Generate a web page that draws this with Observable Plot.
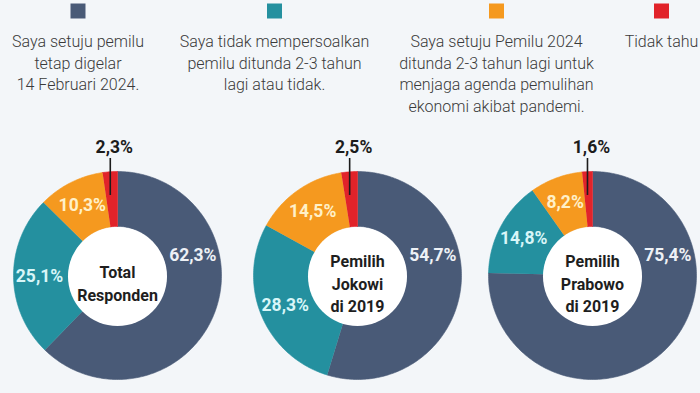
<!DOCTYPE html>
<html>
<head>
<meta charset="utf-8">
<script src="https://cdn.jsdelivr.net/npm/d3@7"></script>
<script src="https://cdn.jsdelivr.net/npm/@observablehq/plot@0.6"></script>
<style>
  html, body { margin: 0; padding: 0; background: #f3f6f9; }
  #chart svg { display: block; background: #f3f6f9; font-family: Roboto, "Noto Sans", sans-serif; }
</style>
</head>
<body>
<div id="chart"></div>
<script>
// ---- data ----
const groups = ["Total Responden", "Pemilih Jokowi di 2019", "Pemilih Prabowo di 2019"];
const centerLabels = ["Total\nResponden", "Pemilih\nJokowi\ndi 2019", "Pemilih\nPrabowo\ndi 2019"];
const categories = [
  "Saya setuju pemilu tetap digelar 14 Februari 2024.",
  "Saya tidak mempersoalkan pemilu ditunda 2-3 tahun lagi atau tidak.",
  "Saya setuju Pemilu 2024 ditunda 2-3 tahun lagi untuk menjaga agenda pemulihan ekonomi akibat pandemi.",
  "Tidak tahu"
];
const legendLabels = [
  "Saya setuju pemilu\ntetap digelar\n14 Februari 2024.",
  "Saya tidak mempersoalkan\npemilu ditunda 2-3 tahun\nlagi atau tidak.",
  "Saya setuju Pemilu 2024\nditunda 2-3 tahun lagi untuk\nmenjaga agenda pemulihan\nekonomi akibat pandemi.",
  "Tidak tahu"
];
const setujuTetap = [62.3, 54.7, 75.4];
const tidakMempersoalkan = [25.1, 28.3, 14.8];
const setujuDitunda = [10.3, 14.5, 8.2];
const tidakTahu = [2.3, 2.5, 1.6];
const series = [setujuTetap, tidakMempersoalkan, setujuDitunda, tidakTahu];

// ---- styles / layout ----
const colors = ["#495a77", "#24909f", "#f5991f", "#e1232a"];
const labelFills = ["#eef1f6", "#d8f6f8", "#fff0c8"];
const W = 700, H = 393;
const centersX = [117, 357, 592];
const legendX = [77.5, 274, 496, 661];
const cy = 275, rOuter = 104, rInner = 49, rLabel = 78;
const mainLabelAngle = 75 * Math.PI / 180;

// ---- build rows ----
const rows = [];
groups.forEach((g, gi) => {
  let acc = 0;
  series.forEach((s, ci) => {
    const v = s[gi];
    const a0 = acc / 100 * 2 * Math.PI, a1 = (acc + v) / 100 * 2 * Math.PI;
    rows.push({group: g, gi, category: categories[ci], ci, value: v, a0, a1, mid: (a0 + a1) / 2, key: gi + "-" + ci});
    acc += v;
  });
});

const ringPts = rows.flatMap(r => {
  const n = Math.max(2, Math.ceil((r.a1 - r.a0) / (Math.PI / 180)));
  const pts = [];
  const cx = centersX[r.gi];
  for (let i = 0; i <= n; i++) {
    const a = r.a0 + (r.a1 - r.a0) * i / n;
    pts.push({key: r.key, category: r.category, x: cx + rOuter * Math.sin(a), y: cy - rOuter * Math.cos(a)});
  }
  for (let i = n; i >= 0; i--) {
    const a = r.a0 + (r.a1 - r.a0) * i / n;
    pts.push({key: r.key, category: r.category, x: cx + rInner * Math.sin(a), y: cy - rInner * Math.cos(a)});
  }
  return pts;
});

const fmt = v => v.toFixed(1).replace(".", ",") + "%";
const labelAngle = r => r.ci === 0 ? mainLabelAngle : r.mid;
const lx = r => centersX[r.gi] + rLabel * Math.sin(labelAngle(r));
const ly = r => cy - rLabel * Math.cos(labelAngle(r));

const smallRows = rows.filter(r => r.ci === 3);
const legendRows = categories.map((c, i) => ({category: c, label: legendLabels[i], i}));

const marks = [
  Plot.line(ringPts, {x: "x", y: "y", z: "key", fill: "category", stroke: "category", strokeWidth: 0.6, curve: "linear"}),
  Plot.dot(groups, {x: (d, i) => centersX[i], y: () => cy + 1, r: rInner + 0.5, fill: "white", stroke: null}),
  ...[0, 1, 2].map(ci => Plot.text(rows.filter(r => r.ci === ci), {
    x: lx, y: ly, text: r => fmt(r.value), fill: labelFills[ci],
    fontSize: 17.5, fontWeight: "bold", textAnchor: "middle", lineAnchor: "middle"
  })),
  Plot.ruleX(smallRows, {x: r => centersX[r.gi] + 100 * Math.sin(r.mid), y1: () => 158, y2: () => cy - 80, stroke: "#1c1c1c", strokeWidth: 1.6}),
  Plot.text(smallRows, {x: r => centersX[r.gi] + 100 * Math.sin(r.mid), y: () => 147, dx: 4, text: r => fmt(r.value),
    fill: "#1c1c1c", fontSize: 17.5, fontWeight: "bold", textAnchor: "middle", lineAnchor: "middle"}),
  Plot.text(groups, {x: (d, i) => centersX[i], y: () => cy + 7, text: (d, i) => centerLabels[i],
    fill: "#1e1e1e", fontSize: 16, fontWeight: "bold", lineHeight: 1.42, textAnchor: "middle", lineAnchor: "middle"}),
  Plot.dot(legendRows, {x: d => legendX[d.i], y: () => 10.5, symbol: "square", r: 8.46, fill: "category", stroke: null}),
  Plot.text(legendRows, {x: d => legendX[d.i], y: () => 31.5, text: "label", fill: "#3a3a3a",
    fontSize: 16, fontWeight: 300, lineHeight: 1.34, textAnchor: "middle", lineAnchor: "top"})
];

const chart = Plot.plot({
  width: W, height: H, margin: 0,
  x: {domain: [0, W], range: [0, W], axis: null},
  y: {domain: [0, H], range: [0, H], axis: null},
  color: {domain: categories, range: colors},
  style: {background: "#f3f6f9", fontFamily: "Roboto, 'Noto Sans', sans-serif"},
  marks
});
document.getElementById("chart").appendChild(chart);
</script>
</body>
</html>
